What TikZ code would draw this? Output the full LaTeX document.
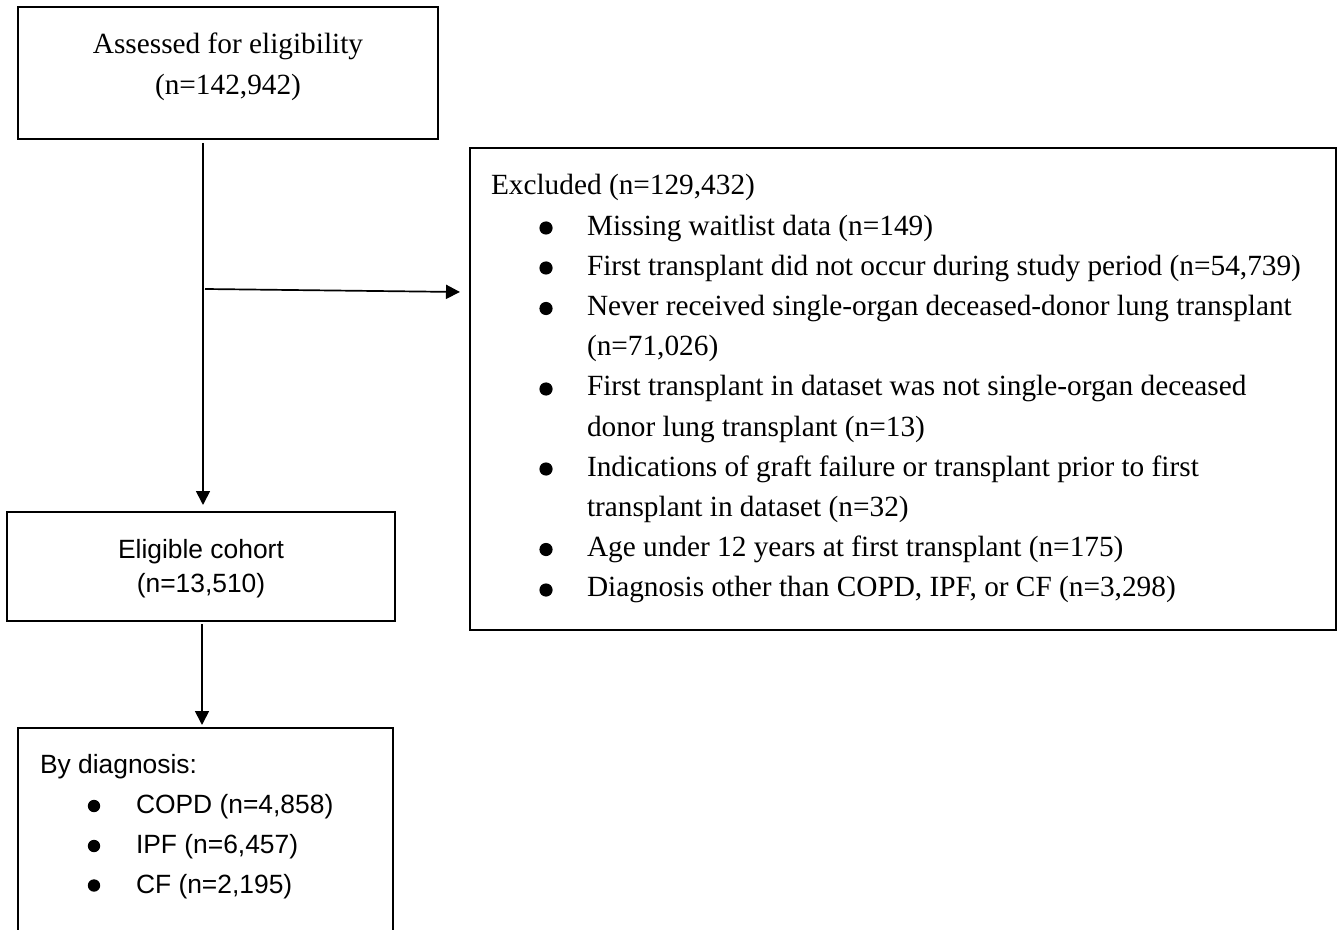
\documentclass[tikz,border=0pt]{standalone}
\usepackage{fontspec}
\setmainfont{Liberation Serif}
\setsansfont{Liberation Sans}
\usetikzlibrary{arrows.meta}
\tikzset{
  frame/.style={draw, line width=1.1pt, inner sep=0pt, outer sep=0pt, anchor=north west},
  conn/.style={line width=0.85pt, -{Triangle[length=7pt,width=7pt]}},
  txt/.style={inner sep=0pt, outer sep=0pt},
  serif/.style={font=\fontsize{14.65}{20.1}\selectfont},
  sans/.style={font=\sffamily\fontsize{13.2}{20}\selectfont},
  bulletdot/.style={fill=black}
}
\newcommand{\myind}{\hspace*{48pt}}

\begin{document}
\begin{tikzpicture}[x=0.5pt,y=-0.5pt]
\useasboundingbox (0,0) rectangle (1337,930);

% boxes
\node[frame, minimum width=210pt, minimum height=66pt] (assess) at (18,7) {};
\node[frame, minimum width=433pt, minimum height=241pt] (excl) at (470,148) {};
\node[frame, minimum width=194pt, minimum height=54.5pt] (elig) at (7,512) {};
\node[frame, minimum width=187.5pt, minimum height=111pt] (diag) at (18,728) {};

% texts
\node[txt, serif, anchor=base] (assesstxt) at (228,54)
  {\begin{tabular}[t]{@{}c@{}}Assessed for eligibility\\(n=142,942)\end{tabular}};

\node[txt, serif, anchor=base west] (excltxt) at (491,195)
  {\begin{tabular}[t]{@{}l@{}}
   Excluded (n=129,432)\\
   \myind Missing waitlist data (n=149)\\
   \myind First transplant did not occur during study period (n=54,739)\\
   \myind Never received single-organ deceased-donor lung transplant\\
   \myind (n=71,026)\\
   \myind First transplant in dataset was not single-organ deceased\\
   \myind donor lung transplant (n=13)\\
   \myind Indications of graft failure or transplant prior to first\\
   \myind transplant in dataset (n=32)\\
   \myind Age under 12 years at first transplant (n=175)\\
   \myind Diagnosis other than COPD, IPF, or CF (n=3,298)
  \end{tabular}};

\node[txt, font=\sffamily\fontsize{13.2}{17}\selectfont, anchor=base] (eligtxt) at (201,558)
  {\begin{tabular}[t]{@{}c@{}}Eligible cohort\\(n=13,510)\end{tabular}};

\node[txt, sans, anchor=base west] (diagtxt) at (40,773)
  {\begin{tabular}[t]{@{}l@{}}
   By diagnosis:\\
   \myind COPD (n=4,858)\\
   \myind IPF (n=6,457)\\
   \myind CF (n=2,195)
  \end{tabular}};

% bullets
\foreach \by in {228,268,308.5,389,469,549.5,590}
  \fill[bulletdot] (546,\by) circle[radius=3.3pt];
\foreach \by in {806,846,885.5}
  \fill[bulletdot] (94,\by) circle[radius=3.1pt];

% connectors
\coordinate (v0) at (203,143);
\draw[conn, shorten >=3.5pt] (v0) -- (v0 |- elig.north);
\coordinate (h0) at (205,289);
\coordinate (h1) at (460,292);
\draw[conn] (h0) -- (h1);
\coordinate (v1) at (202,624);
\draw[conn, shorten >=1.5pt] (v1) -- (v1 |- diag.north);
\end{tikzpicture}
\end{document}
